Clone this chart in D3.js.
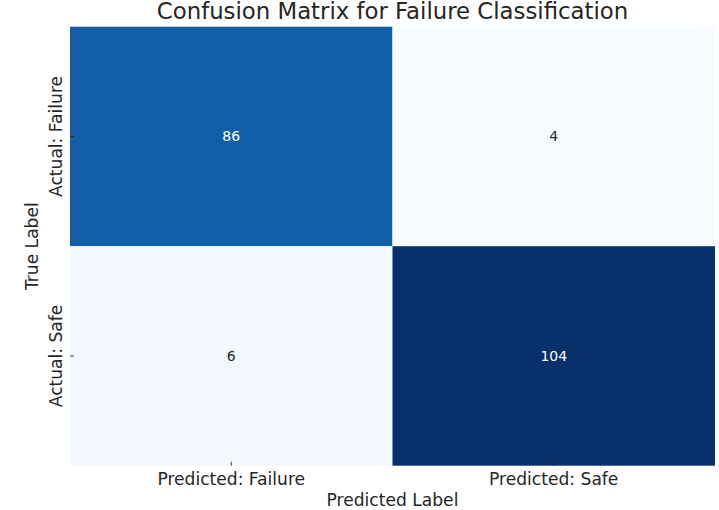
<!DOCTYPE html>
<html>
<head>
<meta charset="utf-8">
<script src="https://cdn.jsdelivr.net/npm/d3@7"></script>
<style>
  body { margin: 0; background: #fff; }
  text { font-family: "DejaVu Sans", sans-serif; fill: #262626; }
</style>
</head>
<body>
<div id="chart"></div>
<script>
// Data
const actualLabels = ["Actual: Failure", "Actual: Safe"];
const predictedLabels = ["Predicted: Failure", "Predicted: Safe"];
const counts = [
  [86, 4],
  [6, 104]
];

// matplotlib "Blues" stops
const bluesStops = ["#f7fbff", "#deebf7", "#c6dbef", "#9ecae1", "#6baed6",
                    "#4292c6", "#2171b5", "#08519c", "#08306b"];

const W = 719, H = 510;
const margin = { top: 26.7, right: 4, bottom: 44.3, left: 70 },
      width = W - margin.left - margin.right,
      height = H - margin.top - margin.bottom;

const svg = d3.select("#chart")
  .append("svg")
    .attr("width", W)
    .attr("height", H);

const g = svg.append("g")
    .attr("transform", "translate(" + margin.left + "," + margin.top + ")");

const x = d3.scaleBand().domain(predictedLabels).range([0, width]);
const y = d3.scaleBand().domain(actualLabels).range([0, height]);

const flat = [];
counts.forEach((row, i) => row.forEach((v, j) => {
  flat.push({ actual: actualLabels[i], predicted: predictedLabels[j], value: v });
}));

const vmin = d3.min(flat, d => d.value), vmax = d3.max(flat, d => d.value);
const color = d3.scaleLinear()
    .domain(bluesStops.map((c, i) => vmin + (vmax - vmin) * i / (bluesStops.length - 1)))
    .range(bluesStops)
    .interpolate(d3.interpolateRgb);

// Cells
g.selectAll("rect.cell")
  .data(flat)
  .join("rect")
    .attr("class", "cell")
    .attr("x", d => x(d.predicted))
    .attr("y", d => y(d.actual))
    .attr("width", x.bandwidth())
    .attr("height", y.bandwidth())
    .attr("fill", d => color(d.value));

// Annotations
g.selectAll("text.annot")
  .data(flat)
  .join("text")
    .attr("class", "annot")
    .attr("x", d => x(d.predicted) + x.bandwidth() / 2)
    .attr("y", d => y(d.actual) + y.bandwidth() / 2)
    .attr("dy", "0.36em")
    .attr("text-anchor", "middle")
    .style("font-size", "14px")
    .style("fill", d => (d.value - vmin) / (vmax - vmin) > 0.5 ? "#ffffff" : "#262626")
    .text(d => d.value);

// Axes (ticks drawn on the cell edge, pointing inwards)
const xAxis = g.append("g")
    .attr("transform", `translate(0,${height})`)
    .call(d3.axisTop(x).tickSize(4).tickSizeOuter(0));
xAxis.select(".domain").remove();
xAxis.selectAll(".tick line").attr("stroke", "#262626").attr("stroke-width", 0.9);
xAxis.selectAll(".tick text").remove();

const yAxis = g.append("g")
    .call(d3.axisRight(y).tickSize(4).tickSizeOuter(0));
yAxis.select(".domain").remove();
yAxis.selectAll(".tick line").attr("stroke", "#262626").attr("stroke-width", 0.9);
yAxis.selectAll(".tick text").remove();

// Tick labels
g.selectAll("text.xtick")
  .data(predictedLabels)
  .join("text")
    .attr("class", "xtick")
    .attr("x", d => x(d) + x.bandwidth() / 2)
    .attr("y", height + 19)
    .attr("text-anchor", "middle")
    .style("font-size", "17.1px")
    .text(d => d);

g.selectAll("text.ytick")
  .data(actualLabels)
  .join("text")
    .attr("class", "ytick")
    .attr("transform", d => `translate(-8.5,${y(d) + y.bandwidth() / 2}) rotate(-90)`)
    .attr("text-anchor", "middle")
    .style("font-size", "17.1px")
    .text(d => d);

// Axis labels
g.append("text")
    .attr("x", width / 2)
    .attr("y", height + 40.5)
    .attr("text-anchor", "middle")
    .style("font-size", "17.1px")
    .text("Predicted Label");

g.append("text")
    .attr("transform", `translate(-31.7,${height / 2}) rotate(-90)`)
    .attr("text-anchor", "middle")
    .style("font-size", "17.1px")
    .text("True Label");

// Title
svg.append("text")
    .attr("x", margin.left + width / 2)
    .attr("y", 18.5)
    .attr("text-anchor", "middle")
    .style("font-size", "22.8px")
    .text("Confusion Matrix for Failure Classification");
</script>
</body>
</html>
